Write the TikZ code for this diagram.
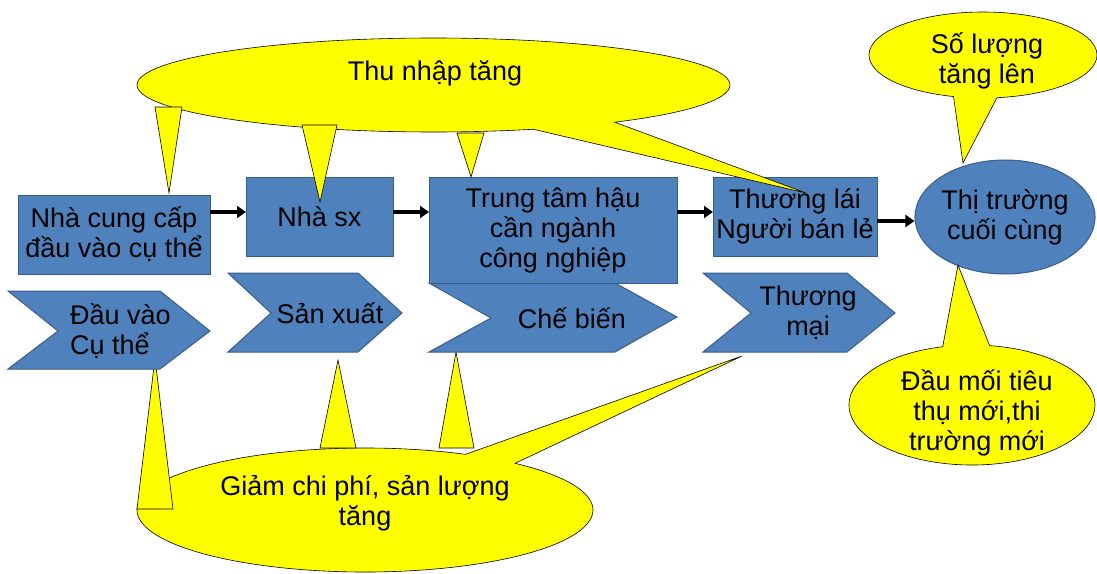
\documentclass[tikz,border=0pt]{standalone}
\usepackage{fontspec}
\setmainfont{Liberation Sans}
\usetikzlibrary{shapes.callouts,shapes.geometric,arrows.meta}
\definecolor{bluefill}{HTML}{4F81BD}
\definecolor{blueline}{HTML}{385D8A}
\definecolor{yel}{HTML}{FFFF00}
\begin{document}
\begin{tikzpicture}[x=1pt,y=-1pt,
  txt/.style={font=\fontsize{27}{30}\selectfont, align=center, inner sep=0pt},
  box/.style={draw=blueline, fill=bluefill, line width=1pt, outer sep=0pt, txt},
  chev/.style={draw=blueline, fill=bluefill, line width=1pt, line join=miter},
  tri/.style={draw=black, fill=yel, line width=0.6pt, line join=miter},
  callout/.style={ellipse callout, draw=black, fill=yel, line width=0.6pt, inner sep=0pt, outer sep=0pt},
  arr/.style={line width=3.5pt, -{Triangle[length=9pt,width=12pt]}}
]
\useasboundingbox (0,0) rectangle (1097,573);
\fill[white] (0,0) rectangle (1097,573);
% bottom callout
\node[callout, minimum width=456pt, minimum height=124pt,
  callout absolute pointer={(742,356)}, callout pointer arc=15] (cb) at (365,510) {};
\node[txt] (tb) at (365,503.5) {Giảm chi phí, sản lượng\\tăng};
\path[tri] (137,509) -- (173,509) -- (155,358) -- cycle;
\path[tri] (320,448) -- (356,448) -- (338,360) -- cycle;
\path[tri] (439,448) -- (474,448) -- (456,352) -- cycle;
% chevrons
\path[chev] (8,291) -- (160,291) -- (210,331) -- (160,369) -- (8,369) -- (58,331) -- cycle;
\path[chev] (228,273) -- (358,273) -- (402,313) -- (358,352) -- (228,352) -- (271,313) -- cycle;
\path[chev] (429,283) -- (615,283) -- (677,317) -- (615,352) -- (429,352) -- (491,318) -- cycle;
\path[chev] (703,273) -- (847,273) -- (895,313) -- (847,352) -- (703,352) -- (751,313) -- cycle;
\node[txt, align=left, anchor=west] (t1) at (70,331) {Đầu vào\\Cụ thể};
\node[txt] (t2) at (330,313) {Sản xuất};
\node[txt] (t3) at (572,318) {Chế biến};
\node[txt] (t4) at (808,313) {Thương\\mại};
% boxes
\node[box, minimum width=192pt, minimum height=79pt] (b1) at (114,234.5) {Nhà cung cấp\\đầu vào cụ thể};
\node[box, minimum width=147pt, minimum height=79pt] (b2) at (319.5,216.5) {Nhà sx};
\node[box, minimum width=248pt, minimum height=106pt] (b3) at (553,230) {Trung tâm hậu\\cần ngành\\công nghiệp};
\node[box, minimum width=164pt, minimum height=79pt] (b4) at (795,216.5) {Thương lái\\Người bán lẻ};
\node[ellipse, draw=blueline, fill=bluefill, line width=1pt, minimum width=180pt, minimum height=114pt, txt] (ell) at (1005,217) {Thị trường\\cuối cùng};
\coordinate (y212) at (0,212);
\coordinate (y221) at (0,221);
\draw[arr] (b1.east |- y212) -- (b2.west |- y212);
\draw[arr] (b2.east |- y212) -- (b3.west |- y212);
\draw[arr] (b3.east |- y212) -- (b4.west |- y212);
\draw[arr] (b4.east |- y221) -- (ell.west |- y221);
% top callout
\node[callout, minimum width=593pt, minimum height=94pt,
  callout absolute pointer={(806,193)}, callout pointer arc=18] (ct) at (433.5,85) {};
\node[txt] (tt) at (435,73) {Thu nhập tăng};
\path[tri] (155,107) -- (182,107) -- (169,193) -- cycle;
\path[tri] (302,125) -- (337,125) -- (320,202) -- cycle;
\path[tri] (457,133) -- (484,133) -- (471,177) -- cycle;
% right callouts
\node[callout, minimum width=228pt, minimum height=86pt,
  callout absolute pointer={(963,163)}, callout pointer arc=22] (cr1) at (983,55) {};
\node[txt] (tr1) at (987,60.5) {Số lượng\\tăng lên};
\node[callout, minimum width=246pt, minimum height=120pt,
  callout absolute pointer={(958,265)}, callout pointer arc=22] (cr2) at (972,405) {};
\node[txt] (tr2) at (977,413) {Đầu mối tiêu\\thụ mới,thi\\trường mới};
\end{tikzpicture}
\end{document}
